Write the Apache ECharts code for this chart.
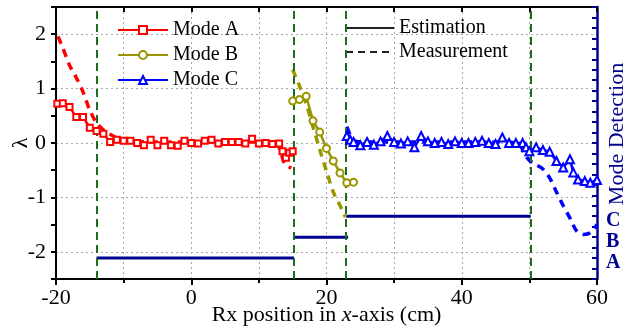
<!DOCTYPE html>
<html>
<head>
<meta charset="utf-8">
<script src="https://cdn.jsdelivr.net/npm/echarts@6/dist/echarts.min.js"></script>
<style>
  html, body { margin: 0; padding: 0; background: #fff; }
  #chart { width: 642px; height: 335px; }
</style>
</head>
<body>
<div id="chart"></div>
<script>
// Mode A (red): estimated and measured lambda vs Rx position (cm)
const modeAEstX = [-19.8, -19, -18, -17, -16, -15, -14, -13, -12, -11, -10, -9, -8, -7, -6, -5, -4, -3, -2, -1, 0, 1, 2, 3, 4, 5, 6, 7, 8, 9, 10, 11, 12, 13, 13.5, 14, 14.5, 15];
const modeAEstY = [0.72, 0.73, 0.66, 0.48, 0.48, 0.28, 0.22, 0.17, 0.02, 0.06, 0.04, 0.04, 0.0, -0.04, 0.06, -0.04, 0.04, -0.04, -0.05, 0.04, 0.0, -0.01, 0.04, 0.06, -0.01, 0.02, 0.02, 0.02, -0.01, 0.08, -0.01, 0.0, -0.02, -0.01, -0.15, -0.27, -0.18, -0.15];
const modeAMeasX = [-19.7, -19, -18, -17, -16, -15, -14, -13, -12, -11, -10, -5, 0, 5, 10, 12.5, 13.2, 13.8, 14.8];
const modeAMeasY = [1.96, 1.75, 1.43, 1.2, 0.94, 0.6, 0.37, 0.24, 0.16, 0.09, 0.04, 0.02, 0.02, 0.02, 0.02, 0.0, -0.15, -0.38, -0.46];

// Mode B (olive)
const modeBEstX = [15, 16, 17, 18, 19, 20, 21, 22, 23, 24];
const modeBEstY = [0.77, 0.8, 0.86, 0.41, 0.2, -0.1, -0.33, -0.55, -0.73, -0.72];
const modeBMeasX = [15, 16, 17, 18, 19, 20, 21, 22, 22.8];
const modeBMeasY = [1.35, 1.05, 0.72, 0.3, -0.12, -0.52, -0.9, -1.15, -1.36];

// Mode C (blue)
const modeCEstX = [23, 23.5, 24, 25, 26, 27, 28, 29, 30, 31, 32, 33, 34, 35, 36, 37, 38, 39, 40, 41, 42, 43, 44, 45, 46, 47, 48, 49, 49.5, 50, 51, 52, 53, 54, 55, 56, 56.5, 57.2, 58.2, 59, 60];
const modeCEstY = [0.13, 0.06, 0.02, -0.04, 0.02, -0.03, 0.03, 0.13, 0.02, -0.01, 0.03, -0.08, 0.13, 0.03, 0.0, 0.02, -0.02, 0.03, 0.0, 0.0, 0.02, 0.04, 0.0, -0.02, 0.1, 0.0, 0.0, 0.0, -0.08, -0.15, -0.08, -0.13, -0.16, -0.33, -0.45, -0.3, -0.54, -0.67, -0.7, -0.73, -0.68];
const modeCMeasX = [23, 23.5, 24, 25, 30, 35, 40, 45, 48, 48.7, 49.4, 50, 51, 52, 53, 54, 55, 56, 57, 58, 59, 60];
const modeCMeasY = [0.3, 0.15, 0.05, 0.02, 0.02, 0.02, 0.02, 0.02, 0.0, -0.06, -0.22, -0.32, -0.4, -0.48, -0.64, -0.9, -1.15, -1.38, -1.62, -1.68, -1.65, -1.5];

// Detected mode per position range (right axis: A = 1, B = 2, C = 3)
const detStart = [-14, 15.2, 22.9];
const detEnd = [15.2, 23.2, 50.2];
const detLevel = [1, 2, 3];
const detLabels = { 1: 'A', 2: 'B', 3: 'C' };

// Positions where the detected mode switches
const switchX = [-14, 15.2, 22.9, 50.2];

const serif = '"Liberation Serif", "DejaVu Serif", serif';
const navy = '#00008f';
const red = '#ff0000';
const olive = '#9a9600';
const blue = '#0000ff';
const gridGray = '#a8a8a8';

const zip = (xs, ys) => xs.map((x, i) => [x, ys[i]]);

const estSeries = (name, xs, ys, color, symbol, size) => ({
  name, type: 'line', data: zip(xs, ys), xAxisIndex: 0, yAxisIndex: 0,
  symbol, symbolSize: size, showSymbol: true,
  lineStyle: { color, width: 2.5 },
  itemStyle: { color, borderColor: color, borderWidth: 1.4 },
  z: 5
});
const measSeries = (name, xs, ys, color) => ({
  name, type: 'line', data: zip(xs, ys), xAxisIndex: 0, yAxisIndex: 0,
  symbol: 'none', smooth: 0.3,
  lineStyle: { color, width: 3.5, type: [8, 6] },
  z: 4
});
// Legend-only entries for the two line styles
const styleKey = (name, type, width) => ({
  name, type: 'line', data: [], symbol: 'none', showSymbol: false,
  itemStyle: { color: '#222', opacity: 0 },
  lineStyle: { color: '#222', width, type }
});

const detSeries = detLevel.map((lvl, i) => ({
  name: 'Detected ' + detLabels[lvl], type: 'line', xAxisIndex: 0, yAxisIndex: 1,
  data: [[detStart[i], lvl], [detEnd[i], lvl]],
  symbol: 'none', lineStyle: { color: navy, width: 3 }, z: 3,
  markLine: i === 0 ? {
    silent: true, symbol: ['none', 'none'], label: { show: false },
    lineStyle: { color: '#1d6b1d', width: 2, type: [8, 5] },
    data: switchX.map(x => ({ xAxis: x }))
  } : undefined
}));

const option = {
  animation: false,
  backgroundColor: '#fff',
  textStyle: { fontFamily: serif },
  grid: { left: 56, right: 45, top: 7, bottom: 56 },
  legend: [
    {
      data: ['Mode A', 'Mode B', 'Mode C'], orient: 'vertical', left: 117, top: 20,
      itemWidth: 50, itemHeight: 10, itemGap: 5, padding: 0,
      textStyle: { fontFamily: serif, fontSize: 20, color: '#000' }
    },
    {
      data: ['Estimation', 'Measurement'], orient: 'vertical', left: 345, top: 18,
      itemWidth: 48, itemHeight: 10, itemGap: 4, padding: 0,
      textStyle: { fontFamily: serif, fontSize: 20, color: '#000' }
    }
  ],
  // Rotated lambda symbol for the left axis title
  graphic: [{
    type: 'text', x: 21, y: 143, rotation: Math.PI / 2, silent: true,
    style: { text: 'λ', font: '22px "Liberation Serif", serif', fill: '#000', align: 'center', verticalAlign: 'middle' }
  }],
  xAxis: [
    {
      type: 'value', min: -20, max: 60, interval: 20, position: 'bottom',
      axisLine: { onZero: false, lineStyle: { color: '#000', width: 2 } },
      axisTick: { length: 6, lineStyle: { color: '#000', width: 2 } },
      minorTick: { show: true, splitNumber: 2, length: 4, lineStyle: { color: '#000', width: 2 } },
      axisLabel: { fontFamily: serif, fontSize: 22, color: '#000', margin: 8 },
      splitLine: { show: false },
      name: 'Rx position in {i|x}-axis (cm)', nameLocation: 'middle', nameGap: 25,
      nameMoveOverlap: false,
      nameTextStyle: {
        fontFamily: serif, fontSize: 22, color: '#000',
        rich: { i: { fontFamily: serif, fontSize: 22, fontStyle: 'italic', color: '#000' } }
      }
    },
    {
      type: 'value', min: -20, max: 60, interval: 10, position: 'top',
      axisLine: { onZero: false, lineStyle: { color: '#000', width: 2 } },
      axisTick: { inside: true, length: 5, lineStyle: { color: '#000', width: 2 } },
      axisLabel: { show: false },
      splitLine: { show: true, lineStyle: { color: gridGray, type: [2, 3], width: 1 } }
    }
  ],
  yAxis: [
    {
      type: 'value', min: -2.5, max: 2.5, interval: 0.5, position: 'left',
      axisLine: { onZero: false, lineStyle: { color: '#000', width: 2 } },
      axisTick: { length: 5, lineStyle: { color: '#000', width: 2 } },
      axisLabel: {
        fontFamily: serif, fontSize: 22, color: '#000', margin: 10,
        formatter: v => (Number.isInteger(v) ? String(v) : '')
      },
      splitLine: { show: true, lineStyle: { color: ['rgba(0,0,0,0)', gridGray], type: [2, 3], width: 1 } }
    },
    {
      type: 'value', min: 0, max: 13, interval: 0.5, position: 'right',
      axisLine: { onZero: false, lineStyle: { color: navy, width: 2.5 } },
      axisTick: { inside: true, length: 5, lineStyle: { color: navy, width: 2 } },
      axisLabel: {
        fontFamily: serif, fontSize: 20, fontWeight: 'bold', color: navy, margin: 9,
        verticalAlign: 'top', lineHeight: 10,
        formatter: v => detLabels[v] || ''
      },
      splitLine: { show: false },
      name: 'Mode Detection', nameLocation: 'middle', nameRotate: 90, nameGap: 9, nameMoveOverlap: false,
      nameTextStyle: { fontFamily: serif, fontSize: 22, color: navy, padding: [0, 0, 0, 18] }
    }
  ],
  series: [
    ...detSeries,
    measSeries('Mode A measured', modeAMeasX, modeAMeasY, red),
    measSeries('Mode B measured', modeBMeasX, modeBMeasY, olive),
    measSeries('Mode C measured', modeCMeasX, modeCMeasY, blue),
    estSeries('Mode A', modeAEstX, modeAEstY, red, 'emptyRect', 6),
    estSeries('Mode B', modeBEstX, modeBEstY, olive, 'emptyCircle', 7),
    estSeries('Mode C', modeCEstX, modeCEstY, blue, 'emptyTriangle', 8),
    styleKey('Estimation', 'solid', 2.5),
    styleKey('Measurement', [7, 5], 3.5)
  ]
};

const chart = echarts.init(document.getElementById('chart'), null, { renderer: 'canvas' });
chart.setOption(option);
</script>
</body>
</html>
